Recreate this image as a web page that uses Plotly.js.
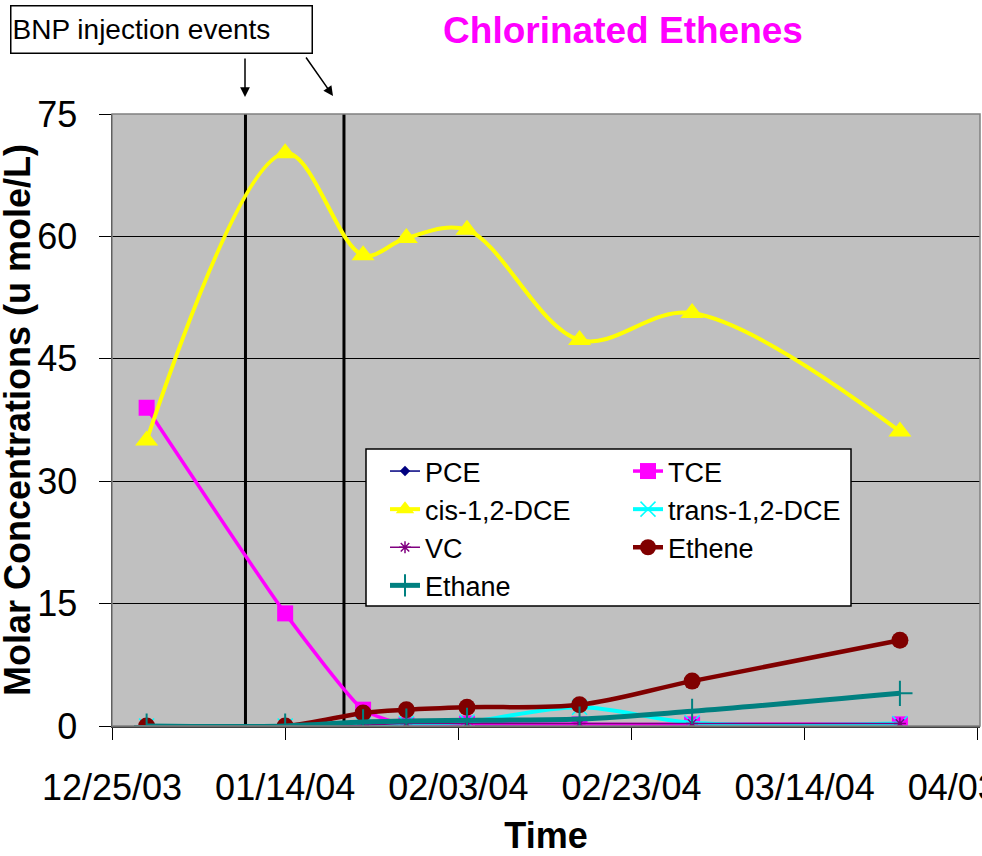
<!DOCTYPE html>
<html>
<head>
<meta charset="utf-8">
<script src="https://cdn.plot.ly/plotly-3.0.1.min.js"></script>
<style>html,body{margin:0;padding:0;background:#fff;}#chart{width:982px;height:856px;}</style>
</head>
<body>
<div id="chart"></div>
<script>
// ---- data ----
var dates = ['2003-12-29','2004-01-14','2004-01-23','2004-01-28','2004-02-04','2004-02-17','2004-03-01','2004-03-25'];
var pce    = [0, 0, 0, 0, 0, 0, 0, 0];
var tce    = [39, 13.8, 2.0, 0.1, 0.3, 0.2, 0.2, 0.2];
var cisDCE = [35, 70.2, 57.7, 59.8, 60.8, 47.3, 50.6, 36.1];
var transDCE = [0, 0, 0.2, 0.3, 0.5, 2.3, 0.4, 0.3];
var vc     = [0, 0, 0.1, 0.3, 0.3, 0.3, 0.3, 0.3];
var ethene = [0, 0, 1.6, 2.0, 2.3, 2.6, 5.5, 10.5];
var ethane = [0, 0, 0.5, 0.6, 0.7, 0.85, 1.8, 4.0];
var injectionDates = ['2004-01-09 10:00', '2004-01-20 19:00'];
var yTicks = [0, 15, 30, 45, 60, 75];

var FONT = 'Liberation Sans, Arial, sans-serif';
var L = 112, R = 2, T = 114, B = 130, W = 982, H = 856;
var pw = W - L - R, ph = H - T - B;
function px(x){ return (x - L) / pw; }
function py(y){ return (T + ph - y) / ph; }

function tr(name, y, color, width, symbol, msize, legendId, smooth, extra){
  var m = {symbol: symbol, size: msize, color: color};
  if (extra) for (var k in extra) m[k] = extra[k];
  return {x: dates, y: y, name: name, type: 'scatter', mode: 'lines+markers',
    legend: legendId,
    line: {color: color, width: width, shape: 'spline', smoothing: smooth},
    marker: m};
}

var traces = [
  tr('PCE', pce, '#000080', 1.5, 'diamond', 8, 'legend', 1),
  tr('TCE', tce, '#FF00FF', 3.5, 'square', 16, 'legend2', 0.5),
  tr('cis-1,2-DCE', cisDCE, '#FFFF00', 4, 'triangle-up', 20, 'legend', 1),
  tr('trans-1,2-DCE', transDCE, '#00FFFF', 4, 'x-thin', 15, 'legend2', 1, {line: {color: '#00FFFF', width: 1.5}}),
  tr('VC', vc, '#800080', 1.5, 'asterisk-open', 10, 'legend', 1, {line: {color: '#800080', width: 1.5}}),
  tr('Ethene', ethene, '#800000', 4.5, 'circle', 17, 'legend2', 1),
  tr('Ethane', ethane, '#008080', 5, 'cross-thin', 18, 'legend', 1, {line: {color: '#008080', width: 2}})
];

var shapes = injectionDates.map(function(d){
  return {type: 'line', xref: 'x', yref: 'paper', x0: d, x1: d, y0: 0, y1: 1,
    line: {color: '#000', width: 3}, layer: 'between'};
});
shapes.push({type: 'rect', xref: 'paper', yref: 'paper', x0: 0, x1: 1, y0: 0, y1: 1,
  line: {color: '#808080', width: 1.5}, layer: 'above'});
// legend frame
shapes.push({type: 'rect', xref: 'paper', yref: 'paper', x0: px(366), x1: px(851), y0: py(606), y1: py(449),
  fillcolor: '#FFFFFF', line: {color: '#000', width: 1.5}, layer: 'above'});

function legendCfg(xpix){
  return {orientation: 'v', x: px(xpix), y: py(447), xanchor: 'left', yanchor: 'top',
    bgcolor: 'rgba(0,0,0,0)', borderwidth: 0, traceorder: 'normal',
    font: {family: FONT, size: 27, color: '#000'}};
}

var layout = {
  width: W, height: H,
  margin: {l: L, r: R, t: T, b: B},
  paper_bgcolor: '#FFFFFF', plot_bgcolor: '#C0C0C0',
  font: {family: FONT, color: '#000'},
  showlegend: true,
  title: {text: '<b>Chlorinated Ethenes</b>', font: {family: FONT, size: 37, color: '#FF00FF'},
    x: 623 / W, xanchor: 'center', y: 1 - 30 / H, yanchor: 'middle', xref: 'container', yref: 'container'},
  xaxis: {
    type: 'date', range: ['2003-12-25', '2004-04-03 06:00'],
    tick0: '2003-12-25', dtick: 20 * 86400000, tickformat: '%m/%d/%y',
    ticks: 'outside', ticklen: 12, tickcolor: '#000', tickwidth: 1,
    tickfont: {family: FONT, size: 36, color: '#000'},
    ticklabelstandoff: 17, ticklabeloverflow: 'allow',
    showgrid: false, zeroline: false,
    showline: true, linecolor: '#404040', linewidth: 2,
    title: {text: '<b>Time</b>', font: {family: FONT, size: 36, color: '#000'}, standoff: 26}
  },
  yaxis: {
    range: [0, 75], tickvals: yTicks, ticktext: yTicks.map(String),
    ticks: 'outside', ticklen: 12, tickcolor: '#000', tickwidth: 1,
    tickfont: {family: FONT, size: 36, color: '#000'},
    ticklabelstandoff: 14,
    showgrid: true, gridcolor: '#000', gridwidth: 1, zeroline: false,
    showline: true, linecolor: '#000', linewidth: 1.5,
    title: {text: ''}
  },
  legend: legendCfg(385),
  legend2: legendCfg(628),
  shapes: shapes,
  annotations: [
    {xref: 'paper', yref: 'paper', x: px(17), y: 0.5, xanchor: 'center', yanchor: 'middle',
     text: '<b>Molar Concentrations (u mole/L)</b>', textangle: -90, showarrow: false,
     font: {family: FONT, size: 36, color: '#000'}},
    {xref: 'paper', yref: 'paper', x: px(10), y: py(5), xanchor: 'left', yanchor: 'top',
     text: 'BNP injection events', showarrow: false, align: 'left',
     width: 298, height: 44, borderpad: 1, bordercolor: '#000', borderwidth: 1.5, bgcolor: '#FFFFFF',
     font: {family: FONT, size: 28, color: '#000'}},
    {xref: 'paper', yref: 'paper', x: px(245), y: py(97), ax: 0, ay: -40, text: '',
     showarrow: true, arrowhead: 2, arrowsize: 1.3, arrowwidth: 1.5, arrowcolor: '#000'},
    {xref: 'paper', yref: 'paper', x: px(333), y: py(96), ax: -28, ay: -40, text: '',
     showarrow: true, arrowhead: 2, arrowsize: 1.3, arrowwidth: 1.5, arrowcolor: '#000'}
  ]
};

Plotly.newPlot('chart', traces, layout, {displayModeBar: false, staticPlot: true});
</script>
</body>
</html>
